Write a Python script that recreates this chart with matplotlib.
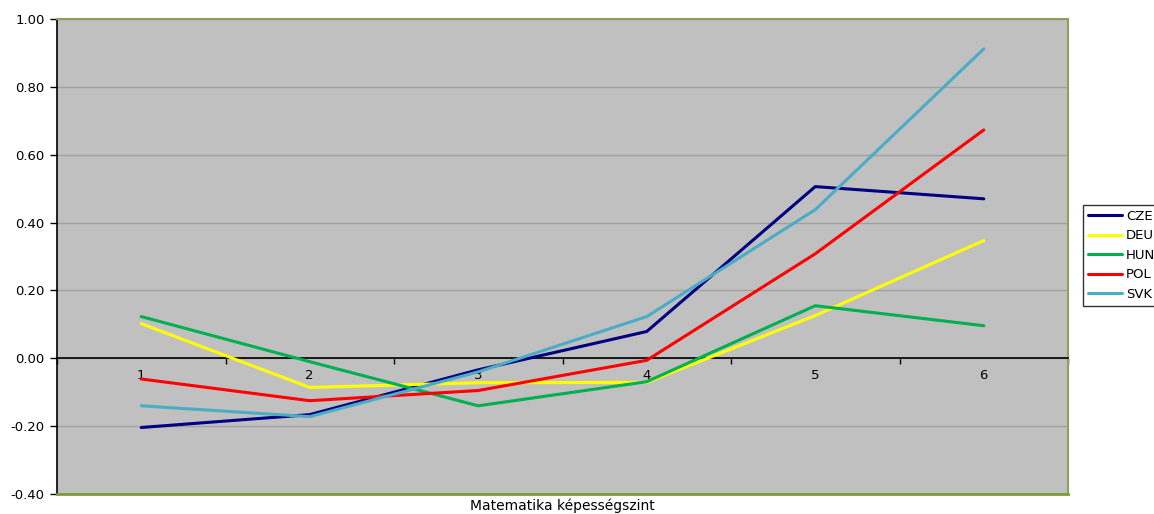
import numpy as np
import matplotlib
matplotlib.use("Agg")
import matplotlib.pyplot as plt
from matplotlib.ticker import FixedLocator, FormatStrFormatter

plt.rcParams['font.family'] = ['DejaVu Sans']

levels = [1, 2, 3, 4, 5, 6]
cze = [-0.204, -0.166, -0.034, 0.079, 0.506, 0.470]
deu = [0.102, -0.086, -0.072, -0.071, 0.126, 0.347]
hun = [0.123, -0.010, -0.140, -0.069, 0.155, 0.096]
pol = [-0.061, -0.125, -0.095, -0.006, 0.308, 0.673]
svk = [-0.140, -0.172, -0.040, 0.123, 0.438, 0.912]

series = [
    ("CZE", cze, "#000080"),
    ("DEU", deu, "#FFFF00"),
    ("HUN", hun, "#00B050"),
    ("POL", pol, "#FF0000"),
    ("SVK", svk, "#4BACC6"),
]

fig = plt.figure(figsize=(11.54, 5.14), dpi=100)
ax = fig.add_axes([57 / 1154, 1 - 494 / 514, 1011 / 1154, 475 / 514])
ax.set_facecolor("#C0C0C0")

for name, vals, col in series:
    ax.plot(levels, vals, color=col, lw=2.2, label=name, solid_capstyle="round", zorder=3)

ax.set_xlim(0.5, 6.5)
ax.set_ylim(-0.4, 1.0)
ax.set_yticks(np.arange(-0.4, 1.01, 0.2))
ax.yaxis.set_major_formatter(FormatStrFormatter("%.2f"))
ax.yaxis.grid(True, color="#A0A0A0", lw=1.0)
ax.set_axisbelow(True)
ax.tick_params(axis="y", labelsize=9.5, direction="out", length=5, width=1, color="black", pad=4)

# category axis sits on the zero line
ax.spines["bottom"].set_position(("data", 0))
ax.spines["bottom"].set_color("black")
ax.spines["bottom"].set_linewidth(1.2)
ax.spines["left"].set_color("black")
ax.spines["left"].set_linewidth(1.2)
for s in ("top", "right"):
    ax.spines[s].set_color("#8FA05A")
    ax.spines[s].set_linewidth(1.5)
ax.axhline(-0.4, color="#7E9A3C", lw=2.0, clip_on=False, zorder=4)

ax.set_xticks(levels)
ax.set_xticklabels([str(v) for v in levels])
ax.xaxis.set_minor_locator(FixedLocator(np.arange(0.5, 6.6, 1.0)))
ax.tick_params(axis="x", which="major", length=0, labelsize=9.5, pad=8)
ax.tick_params(axis="x", which="minor", length=4, width=1, direction="out", color="black")

fig.text(562 / 1154, 1 - 506 / 514, "Matematika képességszint", ha="center", va="center", fontsize=10)

leg = fig.legend(loc="upper left", bbox_to_anchor=(1083 / 1154, 1 - 205 / 514),
                 fontsize=9.5, frameon=True, fancybox=False, handlelength=2.6,
                 handletextpad=0.3, labelspacing=0.5, borderpad=0.35, borderaxespad=0)
leg.get_frame().set_edgecolor("black")
leg.get_frame().set_linewidth(1.0)

fig.savefig("out.png", dpi=100)
